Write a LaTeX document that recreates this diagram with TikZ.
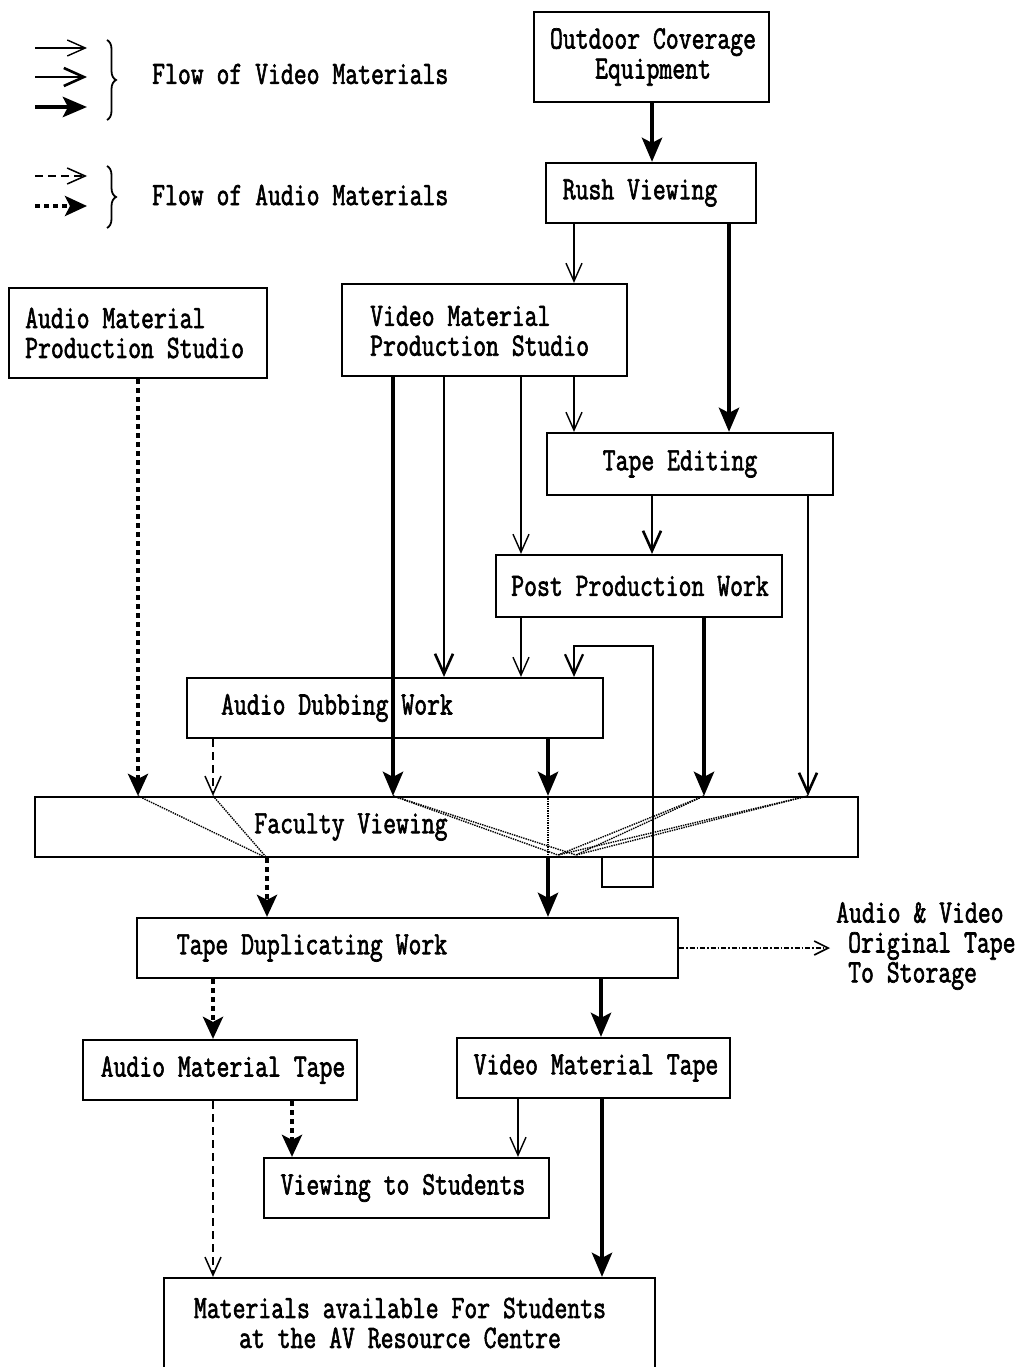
\documentclass[tikz,border=0pt]{standalone}
\usetikzlibrary{arrows.meta,decorations.pathreplacing}
\newcommand{\heavyon}{\special{pdf:literal direct 2 Tr 0.55 w}}
\newcommand{\heavyoff}{\special{pdf:literal direct 0 Tr}}
\begin{document}
\begin{tikzpicture}[x=1pt,y=-1pt,
  box/.style={draw,line width=2.2pt,inner sep=0pt},
  txt/.style={inner sep=0pt,font=\ttfamily\fontsize{25}{23}\selectfont,align=center,yscale=1.3},
  vthin/.style={line width=1.4pt,-{Straight Barb[length=18pt,width=16pt]}},
  vmed/.style={line width=2.6pt,-{Straight Barb[length=20pt,width=18pt]}},
  vthick/.style={line width=4.5pt,-{Stealth[length=24pt,width=20pt,inset=5pt]}},
  adash/.style={line width=1.5pt,dash pattern=on 8pt off 5pt,-{Straight Barb[length=18pt,width=16pt]}},
  adot/.style={line width=4pt,dash pattern=on 5pt off 4pt,-{Stealth[length=22pt,width=20pt,inset=5pt]}},
  conv/.style={line width=1.4pt,densely dotted},
  stor/.style={line width=1.6pt,dash pattern=on 5pt off 2pt on 1.5pt off 2pt,-{Straight Barb[length=14pt,width=14pt]}},
  bracestyle/.style={line width=1.8pt,decorate,decoration={brace,amplitude=9pt}},
]
\useasboundingbox (0,0) rectangle (1024,1367);

% boxes
\node[box,minimum width=235,minimum height=90] (out) at (651.5,57) {};
\node[box,minimum width=210,minimum height=60] (rush) at (651,193) {};
\node[box,minimum width=258,minimum height=90] (amps) at (138,333) {};
\node[box,minimum width=285,minimum height=92] (vmps) at (484.5,330) {};
\node[box,minimum width=286,minimum height=62] (te) at (690,464) {};
\node[box,minimum width=286,minimum height=62] (pp) at (639,586) {};
\node[box,minimum width=416,minimum height=60] (ad) at (395,708) {};
\node[box,minimum width=823,minimum height=60] (fv) at (446.5,827) {};
\node[box,minimum width=541,minimum height=60] (td) at (407.5,948) {};
\node[box,minimum width=274,minimum height=60] (amt) at (220,1070) {};
\node[box,minimum width=273,minimum height=60] (vmt) at (593.5,1068) {};
\node[box,minimum width=285,minimum height=60] (vs) at (406.5,1188) {};
\node[box,minimum width=491,minimum height=102] (mat) at (409.5,1329) {};

% texts
\node[txt] (outT) at (653,57) {\heavyon Outdoor Coverage\\Equipment\heavyoff};
\node[txt] (rushT) at (640,193) {\heavyon Rush Viewing\heavyoff};
\node[txt,align=left,anchor=west] (ampsT) at (25,333) {\heavyon Audio Material\\Production Studio\heavyoff};
\node[txt,align=left,anchor=west] (vmpsT) at (370,331) {\heavyon Video Material\\Production Studio\heavyoff};
\node[txt] (teT) at (680,464) {\heavyon Tape Editing\heavyoff};
\node[txt] (ppT) at (640,586) {\heavyon Post Production Work\heavyoff};
\node[txt] (adT) at (337,708) {\heavyon Audio Dubbing Work\heavyoff};
\node[txt] (fvT) at (351,827) {\heavyon Faculty Viewing\heavyoff};
\node[txt] (tdT) at (312,948) {\heavyon Tape Duplicating Work\heavyoff};
\node[txt] (amtT) at (223,1070) {\heavyon Audio Material Tape\heavyoff};
\node[txt] (vmtT) at (596,1068) {\heavyon Video Material Tape\heavyoff};
\node[txt] (vsT) at (403,1188) {\heavyon Viewing to Students\heavyoff};
\node[txt] (matT) at (400,1323) {\heavyon Materials available For Students\\at the AV Resource Centre\heavyoff};
\node[txt,align=left,anchor=west] (stT) at (836,946) {\heavyon Audio \& Video\\\hspace*{12pt}Original Tape\\\hspace*{12pt}To Storage\heavyoff};
\node[txt,anchor=west] (lgv) at (152,74) {\heavyon Flow of Video Materials\heavyoff};
\node[txt,anchor=west] (lga) at (152,195) {\heavyon Flow of Audio Materials\heavyoff};

% column coordinates
\foreach \c in {138,213,267,292,393,444,518,521,548,574,601,602,652,704,729,808}
  \coordinate (x\c) at (\c,0);

% connectors
\draw[vthick] (out.south -| x652) -- (rush.north -| x652);
\draw[vthin] (rush.south -| x574) -- (vmps.north -| x574);
\draw[vthick] (rush.south -| x729) -- (te.north -| x729);
\draw[adot] (amps.south -| x138) -- (fv.north -| x138);
\draw[vthick] (vmps.south -| x393) -- (fv.north -| x393);
\draw[vmed] (vmps.south -| x444) -- (ad.north -| x444);
\draw[vthin] (vmps.south -| x521) -- (pp.north -| x521);
\draw[vthin] (vmps.south -| x574) -- (te.north -| x574);
\draw[vmed] (te.south -| x652) -- (pp.north -| x652);
\draw[vmed] (te.south -| x808) -- (fv.north -| x808);
\draw[vthin] (pp.south -| x521) -- (ad.north -| x521);
\draw[vthick] (pp.south -| x704) -- (fv.north -| x704);
\draw[vthick] (ad.south -| x548) -- (fv.north -| x548);
\draw[adash] (ad.south -| x213) -- (fv.north -| x213);
\coordinate (lp1) at (602,887);
\coordinate (lp2) at (653,887);
\coordinate (lp3) at (653,646);
\coordinate (lp4) at (574,646);
\draw[vmed,line width=2.2pt] (fv.south -| x602) -- (lp1) -- (lp2) -- (lp3) -- (lp4) -- (ad.north -| x574);
\draw[adot] (fv.south -| x267) -- (td.north -| x267);
\draw[vthick] (fv.south -| x548) -- (td.north -| x548);
\coordinate (storE) at (830,948);
\draw[stor] (td.east) -- (storE);
\draw[adot] (td.south -| x213) -- (amt.north -| x213);
\draw[vthick] (td.south -| x601) -- (vmt.north -| x601);
\draw[adot] (amt.south -| x292) -- (vs.north -| x292);
\draw[vthin] (vmt.south -| x518) -- (vs.north -| x518);
\draw[adash] (amt.south -| x213) -- (mat.north -| x213);
\draw[vthick] (vmt.south -| x602) -- (mat.north -| x602);

% convergence lines inside Faculty Viewing
\coordinate (cvR1) at (558,855);
\coordinate (cvR2) at (576,855);
\draw[conv] (fv.north -| x138) -- (fv.south -| x267);
\draw[conv] (fv.north -| x213) -- (fv.south -| x267);
\foreach \c in {393,704,808}{
  \draw[conv] (fv.north -| x\c) -- (cvR1);
  \draw[conv] (fv.north -| x\c) -- (cvR2);
}
\draw[conv] (fv.north -| x548) -- (fv.south -| x548);

% legend
\coordinate (l1a) at (35,48);  \coordinate (l1b) at (87,48);
\coordinate (l2a) at (35,77);  \coordinate (l2b) at (87,77);
\coordinate (l3a) at (35,107); \coordinate (l3b) at (87,107);
\coordinate (l4a) at (35,176); \coordinate (l4b) at (87,176);
\coordinate (l5a) at (35,206); \coordinate (l5b) at (87,206);
\draw[vthin] (l1a) -- (l1b);
\draw[vmed] (l2a) -- (l2b);
\draw[vthick] (l3a) -- (l3b);
\draw[adash] (l4a) -- (l4b);
\draw[adot] (l5a) -- (l5b);
\coordinate (b1a) at (107,40);  \coordinate (b1b) at (107,120);
\coordinate (b2a) at (107,166); \coordinate (b2b) at (107,228);
\draw[bracestyle] (b1a) -- (b1b);
\draw[bracestyle] (b2a) -- (b2b);
\end{tikzpicture}
\end{document}
